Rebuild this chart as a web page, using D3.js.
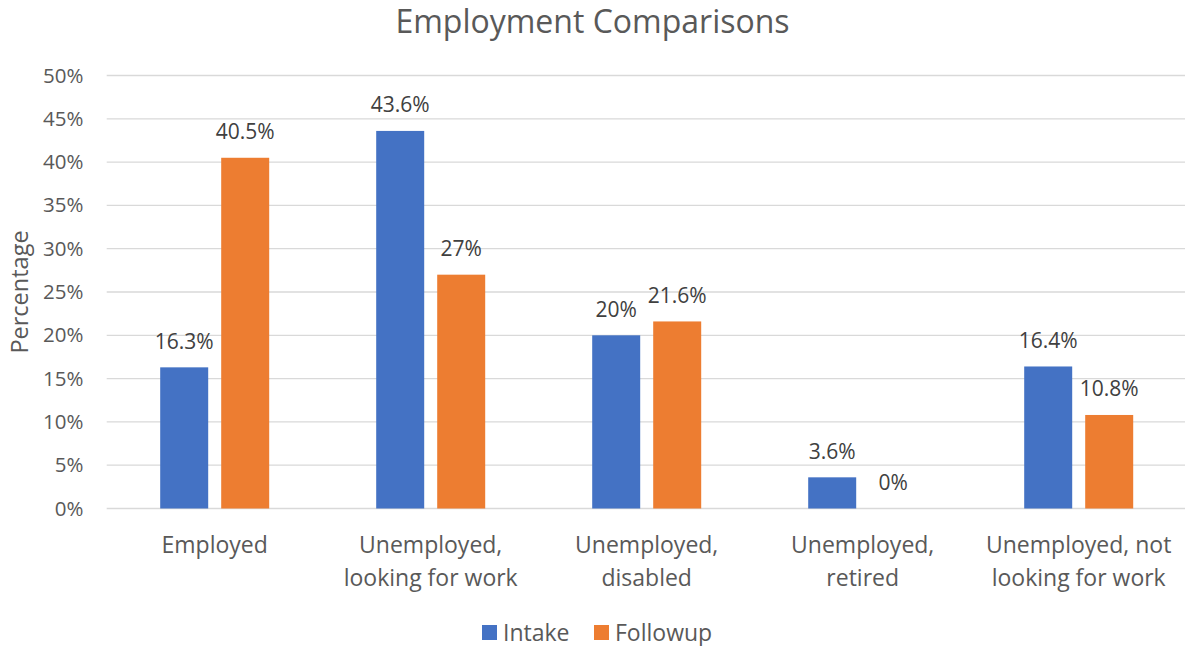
<!DOCTYPE html>
<html>
<head>
<meta charset="utf-8">
<script src="https://cdn.jsdelivr.net/npm/d3@7"></script>
<style>
  html, body { margin: 0; padding: 0; background: #fff; }
  svg { display: block; font-family: "Open Sans", sans-serif; }
</style>
</head>
<body>
<svg id="chart" width="1185" height="646"></svg>
<script>
const categories = [
  ["Employed"],
  ["Unemployed,", "looking for work"],
  ["Unemployed,", "disabled"],
  ["Unemployed,", "retired"],
  ["Unemployed, not", "looking for work"]
];
const seriesNames = ["Intake", "Followup"];
const intake = [16.3, 43.6, 20, 3.6, 16.4];
const followup = [40.5, 27, 21.6, 0, 10.8];
const yTicks = [0, 5, 10, 15, 20, 25, 30, 35, 40, 45, 50];
const colors = ["#4472C4", "#ED7D31"];

const svg = d3.select("#chart");
const W = 1185, H = 646;
const plot = { left: 106.7, right: 1186.7, top: 75.5, bottom: 508.5 };

const keys = categories.map((c, i) => i);
const x = d3.scaleBand().domain(keys).range([plot.left, plot.right]).paddingInner(0).paddingOuter(0);
const y = d3.scaleLinear().domain([0, 50]).range([plot.bottom, plot.top]);

const barW = 48, gap = 13;

// gridlines
svg.append("g").selectAll("line").data(yTicks).join("line")
  .attr("x1", plot.left).attr("x2", W)
  .attr("y1", d => y(d)).attr("y2", d => y(d))
  .attr("stroke", "#D9D9D9").attr("stroke-width", 1.3);

// y axis labels
const yAxis = d3.axisLeft(y).tickValues(yTicks).tickFormat(d => d + "%").tickSize(0).tickPadding(0);
const yg = svg.append("g").attr("transform", `translate(83.5,0)`).call(yAxis);
yg.select(".domain").remove();
yg.selectAll("text").attr("fill", "#595959").style("font-size", "20.5px").style("font-family", "'Open Sans', sans-serif");

// bars
const series = [intake, followup];
series.forEach((vals, si) => {
  const off = si === 0 ? -(gap / 2 + barW) : gap / 2;
  const g = svg.append("g");
  g.selectAll("rect").data(vals).join("rect")
    .attr("x", (d, i) => x(i) + x.bandwidth() / 2 + off)
    .attr("y", d => y(d))
    .attr("width", barW)
    .attr("height", d => y(0) - y(d))
    .attr("fill", colors[si]);
  g.selectAll("text").data(vals).join("text")
    .attr("x", (d, i) => x(i) + x.bandwidth() / 2 + off + barW / 2)
    .attr("y", d => y(d) - 18.5)
    .attr("text-anchor", "middle")
    .attr("fill", "#404040")
    .style("font-size", "21px")
    .text(d => d + "%");
});

// category labels
const xl = svg.append("g");
categories.forEach((lines, i) => {
  const t = xl.append("text")
    .attr("text-anchor", "middle")
    .attr("fill", "#595959")
    .style("font-size", "23px");
  lines.forEach((ln, j) => {
    t.append("tspan").attr("x", x(i) + x.bandwidth() / 2).attr("y", 552.5 + j * 33.5).text(ln);
  });
});

// title
svg.append("text").attr("x", 592.5).attr("y", 33).attr("text-anchor", "middle")
  .attr("fill", "#595959").style("font-size", "32px").text("Employment Comparisons");

// y axis title
svg.append("text").attr("transform", "translate(28,292) rotate(-90)")
  .attr("text-anchor", "middle").attr("fill", "#595959").style("font-size", "23.5px").text("Percentage");

// legend
const legendItems = [{ name: seriesNames[0], x: 482 }, { name: seriesNames[1], x: 594 }];
const lg = svg.append("g");
legendItems.forEach((it, i) => {
  lg.append("rect").attr("x", it.x).attr("y", 625).attr("width", 15).attr("height", 15).attr("fill", colors[i]);
  lg.append("text").attr("x", it.x + 21).attr("y", 640.5).attr("fill", "#595959").style("font-size", "23px").text(it.name);
});
</script>
</body>
</html>
